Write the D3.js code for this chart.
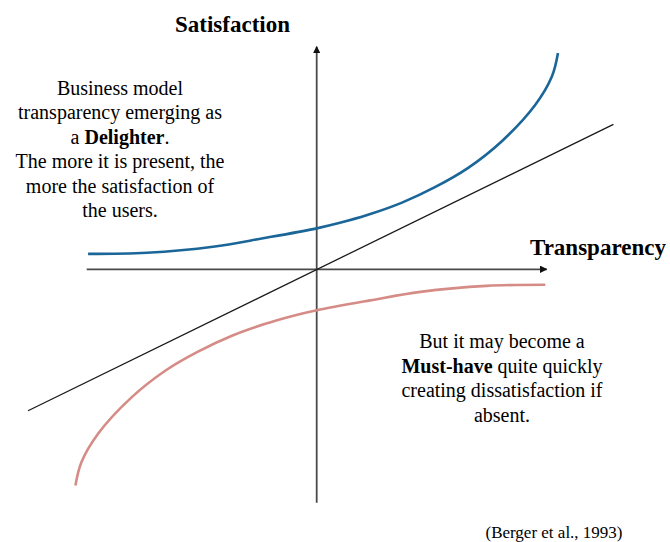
<!DOCTYPE html>
<html>
<head>
<meta charset="utf-8">
<script src="https://cdn.jsdelivr.net/npm/d3@7"></script>
</head>
<body style="margin:0">
<script>
// Values (axis units: origin = where the axes cross)
const delighterX = [-9.94, -7.38, -4.51, -2.33, 0, 1.01, 2.23, 3.71, 5.14, 6.57, 8.05, 9.49, 10.23, 10.49];
const delighterY = [0.67, 0.72, 0.98, 1.35, 1.78, 2.02, 2.37, 2.9, 3.57, 4.4, 5.57, 7.13, 8.39, 9.4];
const mustHaveX = [-10.49, -10.23, -9.49, -8.05, -6.57, -5.14, -3.71, -2.23, -1.01, 0, 2.33, 4.51, 7.38, 9.94];
const mustHaveY = [-9.4, -8.39, -7.13, -5.57, -4.4, -3.57, -2.9, -2.37, -2.02, -1.78, -1.35, -0.98, -0.72, -0.67];
const linearX = [-12.55, 12.9];
const linearY = [-6.15, 6.3];
const xAxisExtent = [-10, 10];
const yAxisExtent = [-10.15, 9.68];

const leftNote = [
  [{t: "Business model"}],
  [{t: "transparency emerging as"}],
  [{t: "a "}, {t: "Delighter", b: true}, {t: "."}],
  [{t: "The more it is present, the"}],
  [{t: "more the satisfaction of"}],
  [{t: "the users."}]
];
const rightNote = [
  [{t: "But it may become a"}],
  [{t: "Must-have", b: true}, {t: " quite quickly"}],
  [{t: "creating dissatisfaction if"}],
  [{t: "absent."}]
];

const width = 670, height = 542;
const FONT = "Times New Roman";

const svg = d3.select("body").append("svg")
  .attr("width", width)
  .attr("height", height);

// scales: 23 px per unit, origin at (316.7, 269.3)
const x = d3.scaleLinear().domain([-10, 10]).range([86.7, 546.7]);
const y = d3.scaleLinear().domain([-10, 10]).range([499.3, 39.3]);

// axis titles and notes first
svg.append("text")
  .attr("x", 232.5).attr("y", 32)
  .attr("font-size", 23)
  .attr("font-family", FONT)
  .attr("font-weight", "bold")
  .attr("text-anchor", "middle")
  .text("Satisfaction");

svg.append("text")
  .attr("x", 530).attr("y", 255)
  .attr("font-size", 23)
  .attr("font-family", FONT)
  .attr("font-weight", "bold")
  .text("Transparency");

const drawNote = (lines, cx, y0, step) => {
  lines.forEach((parts, i) => {
    const t = svg.append("text")
      .attr("x", cx).attr("y", y0 + i * step)
      .attr("font-size", 20)
      .attr("font-family", FONT)
      .attr("text-anchor", "middle");
    parts.forEach(p => {
      t.append("tspan")
        .attr("font-weight", p.b ? "bold" : null)
        .text(p.t);
    });
  });
};
drawNote(leftNote, 120, 94.5, 24.5);
drawNote(rightNote, 502, 348, 24.6);

svg.append("text")
  .attr("x", 554).attr("y", 538)
  .attr("font-size", 17)
  .attr("font-family", FONT)
  .attr("text-anchor", "middle")
  .text("(Berger et al., 1993)");

// arrow marker
svg.append("defs").append("marker")
  .attr("id", "arrow")
  .attr("viewBox", "0 0 10 10")
  .attr("refX", 9).attr("refY", 5)
  .attr("markerWidth", 4.2).attr("markerHeight", 4.2)
  .attr("markerUnits", "strokeWidth")
  .attr("orient", "auto")
  .append("path")
  .attr("d", "M0,0 L10,5 L0,10 Z")
  .attr("fill", "#111");

// axes
svg.append("line")
  .attr("x1", x(xAxisExtent[0])).attr("y1", y(0))
  .attr("x2", x(xAxisExtent[1])).attr("y2", y(0))
  .attr("stroke", "#4a4a4a").attr("stroke-width", 1.8)
  .attr("marker-end", "url(#arrow)");

svg.append("line")
  .attr("x1", x(0)).attr("y1", y(yAxisExtent[0]))
  .attr("x2", x(0)).attr("y2", y(yAxisExtent[1]))
  .attr("stroke", "#4a4a4a").attr("stroke-width", 1.8)
  .attr("marker-end", "url(#arrow)");

// linear (performance) line
svg.append("line")
  .attr("x1", x(linearX[0])).attr("y1", y(linearY[0]))
  .attr("x2", x(linearX[1])).attr("y2", y(linearY[1]))
  .attr("stroke", "#1a1a1a").attr("stroke-width", 1.3);

const line = d3.line()
  .x(d => x(d[0]))
  .y(d => y(d[1]))
  .curve(d3.curveCatmullRom.alpha(0.5));

// delighter curve
svg.append("path")
  .datum(delighterX.map((v, i) => [v, delighterY[i]]))
  .attr("d", line)
  .attr("fill", "none")
  .attr("stroke", "#1b6698")
  .attr("stroke-width", 2.6);

// must-have curve
svg.append("path")
  .datum(mustHaveX.map((v, i) => [v, mustHaveY[i]]))
  .attr("d", line)
  .attr("fill", "none")
  .attr("stroke", "#d68c86")
  .attr("stroke-width", 2.6);
</script>
</body>
</html>
